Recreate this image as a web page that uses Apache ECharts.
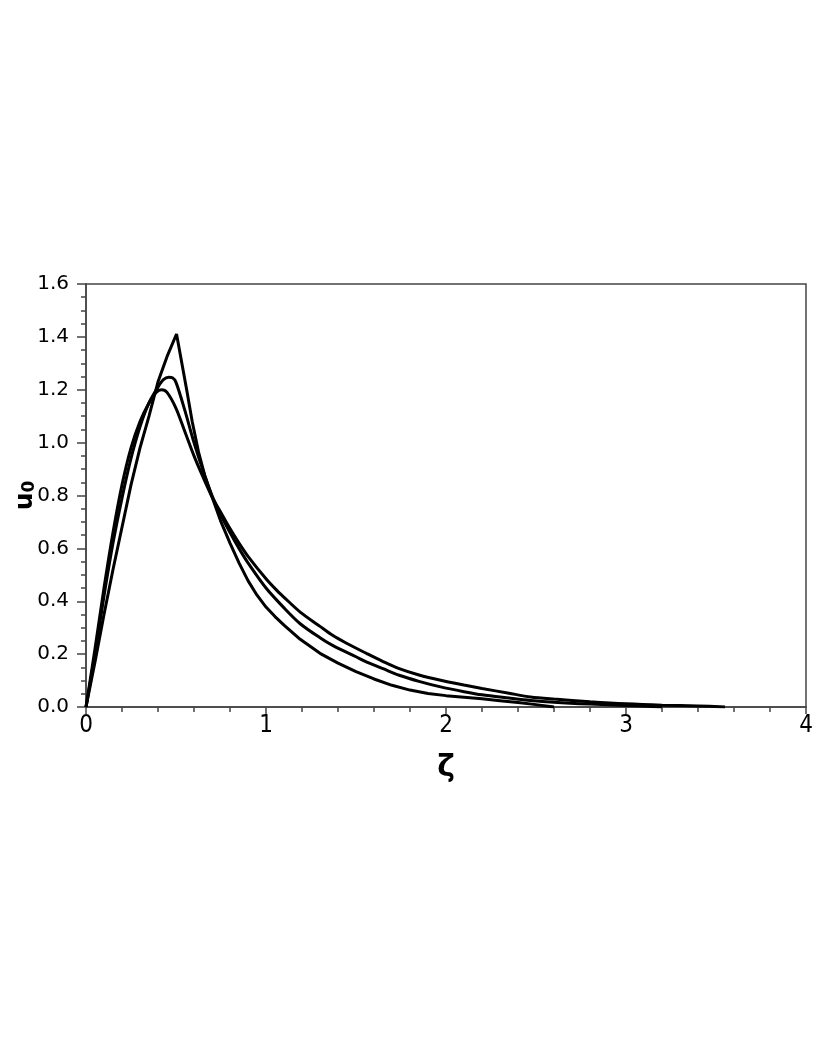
<!DOCTYPE html>
<html>
<head>
<meta charset="utf-8">
<script src="https://cdn.jsdelivr.net/npm/echarts@6/dist/echarts.min.js"></script>
<style>
html,body{margin:0;padding:0;background:#fff;}
#chart{width:817px;height:1058px;}
</style>
</head>
<body>
<div id="chart"></div>
<script>
// Curve with sharp peak
const curveA = [[0,0],[0.05,0.17],[0.1,0.35],[0.15,0.52],[0.2,0.68],[0.25,0.84],[0.3,0.98],[0.35,1.10],[0.4,1.23],[0.45,1.325],[0.503,1.411],[0.53,1.31],[0.56,1.197],[0.59,1.08],[0.625,0.965],[0.66,0.875],[0.7,0.795],[0.75,0.70],[0.8,0.62],[0.85,0.545],[0.9,0.478],[0.95,0.423],[1.0,0.378],[1.05,0.342],[1.1,0.31],[1.19,0.256],[1.3,0.203],[1.4,0.166],[1.5,0.134],[1.6,0.106],[1.7,0.082],[1.8,0.064],[1.9,0.051],[2.0,0.043],[2.1,0.037],[2.2,0.031],[2.3,0.024],[2.4,0.017],[2.5,0.009],[2.6,0]];
// Curve with medium peak
const curveB = [[0,0],[0.05,0.2],[0.1,0.42],[0.15,0.62],[0.2,0.79],[0.25,0.94],[0.3,1.06],[0.35,1.15],[0.4,1.21],[0.43,1.238],[0.46,1.247],[0.48,1.245],[0.5,1.228],[0.55,1.12],[0.6,1.0],[0.65,0.895],[0.7,0.80],[0.75,0.725],[0.8,0.66],[0.85,0.60],[0.9,0.545],[1.0,0.45],[1.1,0.375],[1.19,0.315],[1.3,0.262],[1.37,0.233],[1.5,0.19],[1.56,0.170],[1.65,0.145],[1.74,0.120],[1.85,0.097],[1.97,0.076],[2.1,0.058],[2.2,0.046],[2.35,0.034],[2.47,0.025],[2.6,0.018],[2.8,0.011],[3.0,0.006],[3.2,0.0]];
// Curve with lowest peak
const curveC = [[0,0],[0.05,0.22],[0.1,0.45],[0.15,0.66],[0.2,0.84],[0.25,0.98],[0.3,1.08],[0.35,1.15],[0.39,1.19],[0.42,1.20],[0.45,1.19],[0.5,1.13],[0.55,1.04],[0.6,0.95],[0.65,0.87],[0.7,0.795],[0.75,0.735],[0.8,0.675],[0.85,0.62],[0.9,0.57],[1.0,0.485],[1.06,0.441],[1.1,0.415],[1.19,0.359],[1.3,0.305],[1.37,0.271],[1.45,0.24],[1.56,0.202],[1.65,0.172],[1.74,0.145],[1.85,0.121],[1.97,0.101],[2.1,0.083],[2.2,0.070],[2.35,0.052],[2.47,0.038],[2.6,0.03],[2.8,0.02],[3.0,0.012],[3.2,0.007],[3.4,0.004],[3.55,0.0]];

const xTicks = [0,1,2,3,4];
const yTicks = [0,0.2,0.4,0.6,0.8,1.0,1.2,1.4,1.6];
const xTitle = 'ζ';
const yTitleMain = 'u';
const yTitleSub = '0';

const chart = echarts.init(document.getElementById('chart'));
const axisColor = '#444';
const lineStyle = {color:'#000', width:3};

chart.setOption({
  animation:false,
  grid:{left:86, right:11, top:284, bottom:351, outerBoundsMode:'none', containLabel:false, show:true, borderColor:axisColor, borderWidth:1.5, backgroundColor:'transparent'},
  xAxis:{
    type:'value', min:xTicks[0], max:xTicks[xTicks.length-1], interval:1,
    axisLine:{show:true, onZero:false, lineStyle:{color:axisColor, width:1.5}},
    axisTick:{show:true, inside:false, length:7, lineStyle:{color:axisColor, width:1.5}},
    minorTick:{show:true, splitNumber:5, length:5, lineStyle:{color:axisColor, width:1.5}},
    splitLine:{show:false},
    axisLabel:{fontFamily:'DejaVu Sans Condensed', fontSize:24, color:'#000', margin:7},
    name:xTitle, nameLocation:'middle', nameGap:46,
    nameTextStyle:{fontFamily:'DejaVu Sans', fontSize:30, fontWeight:'bold', color:'#000'}
  },
  yAxis:{
    type:'value', min:yTicks[0], max:yTicks[yTicks.length-1], interval:0.2,
    axisLine:{show:true, onZero:false, lineStyle:{color:axisColor, width:1.5}},
    axisTick:{show:true, inside:false, length:9, lineStyle:{color:axisColor, width:1.5}},
    minorTick:{show:true, splitNumber:4, length:5, lineStyle:{color:axisColor, width:1.5}},
    splitLine:{show:false},
    axisLabel:{fontFamily:'DejaVu Sans', fontSize:20, color:'#000', margin:17, formatter:v=>v.toFixed(1)},
    name:'{a|'+yTitleMain+'}{b|'+yTitleSub+'}', nameLocation:'middle', nameGap:48, nameRotate:90, nameMoveOverlap:false,
    nameTextStyle:{rich:{
      a:{fontFamily:'DejaVu Sans', fontSize:25, fontWeight:'bold', color:'#000'},
      b:{fontFamily:'DejaVu Sans', fontSize:17, fontWeight:'bold', color:'#000', verticalAlign:'bottom', padding:[9,0,0,0]}
    }}
  },
  series:[
    {type:'line', data:curveA, showSymbol:false, smooth:false, lineStyle:lineStyle},
    {type:'line', data:curveB, showSymbol:false, smooth:0.3, lineStyle:lineStyle},
    {type:'line', data:curveC, showSymbol:false, smooth:0.3, lineStyle:lineStyle}
  ]
});
</script>
</body>
</html>
